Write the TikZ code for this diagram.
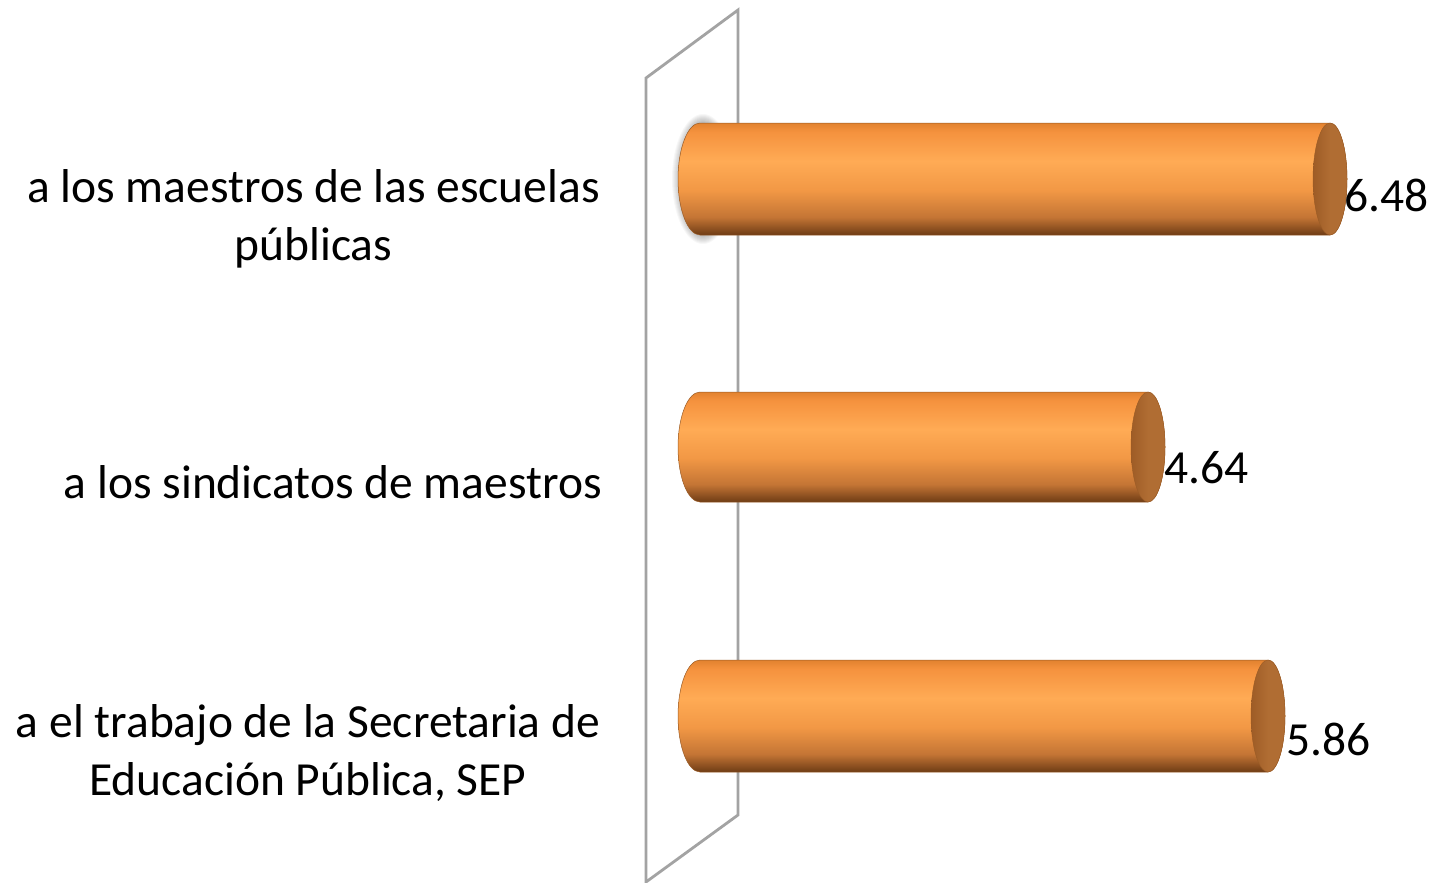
\documentclass[tikz,border=0pt]{standalone}
\usepackage{fontspec}
\setmainfont{Carlito}
\definecolor{bartop}{HTML}{E2822F}
\definecolor{barmid}{HTML}{F5923E}
\definecolor{barlt}{HTML}{FFAB55}
\definecolor{barmidb}{HTML}{F29845}
\definecolor{barlow}{HTML}{C47535}
\definecolor{barbot}{HTML}{6E3C15}
\definecolor{capcol}{HTML}{B06D33}
\definecolor{capdk}{HTML}{9E5C26}
\definecolor{edgecol}{HTML}{9A5B25}
\definecolor{wallcol}{HTML}{A3A3A3}
\pgfdeclareverticalshading{barshade}{100bp}{color(0bp)=(barbot); color(25bp)=(barbot); color(33bp)=(barlow); color(45bp)=(barmidb); color(58bp)=(barlt); color(71bp)=(barmid); color(75bp)=(bartop); color(100bp)=(bartop)}
\newcommand\cylbar[3]{% #1 center y, #2 right cap x, #3 half height
  \shade[shading=barshade, draw=edgecol, line width=0.5pt]
    (700,#1+#3) arc[start angle=90, end angle=270, x radius=22, y radius=#3]
    -- (#2,#1-#3) arc[start angle=-90, end angle=90, x radius=17, y radius=#3] -- cycle;
  \shade[left color=capdk, right color=capcol, middle color=capcol, draw=edgecol, line width=0.4pt] (#2,#1) ellipse[x radius=17, y radius=#3];
}
\begin{document}
\begin{tikzpicture}[x=1pt,y=-1pt,
  lab/.style={font=\fontsize{47.5}{58}\selectfont, inner sep=0pt, text=black},
  wall/.style={draw=wallcol, line width=2.8pt, line join=miter}]
\useasboundingbox (0,0) rectangle (1433,883);
\fill[white] (0,0) rectangle (1433,883);
% back wall
\draw[wall] (646,882) -- (646,78) -- (738,10) -- (738,815) -- cycle;
% glow behind first bar's left end
\foreach \k in {1,...,9}
  \fill[black, opacity=0.03] (703,179) ellipse[x radius=22+\k, y radius=56+\k];
% bars
\cylbar{179}{1330}{56}
\cylbar{447}{1148}{55}
\cylbar{716}{1268}{56}
% category labels
\node[lab, anchor=base] (l1a) at (313.5,202) {a los maestros de las escuelas};
\node[lab, anchor=base] (l1b) at (313.5,260) {públicas};
\node[lab, anchor=base east] (l2) at (602,498) {a los sindicatos de maestros};
\node[lab, anchor=base] (l3a) at (308,737) {a el trabajo de la Secretaria de};
\node[lab, anchor=base] (l3b) at (308,795) {Educación Pública, SEP};
% value labels
\node[lab, anchor=base west] (v1) at (1344,211) {6.48};
\node[lab, anchor=base west] (v2) at (1164,483) {4.64};
\node[lab, anchor=base west] (v3) at (1286,755) {5.86};
\end{tikzpicture}
\end{document}
